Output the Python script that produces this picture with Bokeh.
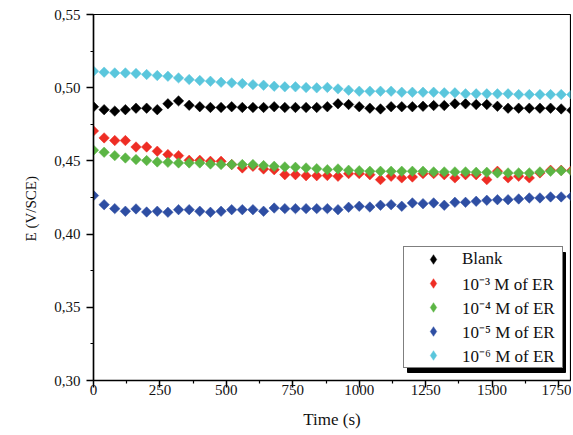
import numpy as np
from bokeh.plotting import figure
from bokeh.models import FixedTicker, Range1d, Legend, LegendItem, BoxAnnotation, Title
from bokeh.embed import file_html
from bokeh.resources import INLINE

# ---------------- data ----------------
time_s = [0, 40, 80, 120, 160, 200, 240, 280, 320, 360, 400, 440, 480, 520, 560,
          600, 640, 680, 720, 760, 800, 840, 880, 920, 960, 1000, 1040, 1080, 1120,
          1160, 1200, 1240, 1280, 1320, 1360, 1400, 1440, 1480, 1520, 1560, 1600,
          1640, 1680, 1720, 1760, 1800]

blank = [0.487, 0.485, 0.484, 0.485, 0.486, 0.486, 0.485, 0.489, 0.491, 0.488, 0.487,
         0.4865, 0.4865, 0.487, 0.4865, 0.4865, 0.4865, 0.487, 0.4865, 0.4865, 0.4865, 0.4865,
         0.487, 0.489, 0.4885, 0.487, 0.486, 0.4855, 0.487, 0.487, 0.487, 0.4873, 0.4878,
         0.4878, 0.489, 0.489, 0.4885, 0.4885, 0.4873, 0.486, 0.486, 0.486, 0.486, 0.486,
         0.4855, 0.4846]

er_1e3 = [0.4705, 0.4657, 0.4639, 0.4639, 0.4595, 0.4595, 0.4566, 0.4543, 0.4536, 0.4504,
          0.4504, 0.4497, 0.4497, 0.4475, 0.4452, 0.4463, 0.4445, 0.4440, 0.4406, 0.4406,
          0.4399, 0.4399, 0.4400, 0.4395, 0.4413, 0.4413, 0.4406, 0.4372, 0.4395, 0.4384,
          0.4390, 0.4413, 0.4413, 0.4406, 0.4384, 0.4406, 0.4406, 0.4372, 0.4429, 0.4384,
          0.4395, 0.4384, 0.4418, 0.4436, 0.4436, 0.4436]

er_1e4 = [0.4573, 0.4559, 0.4536, 0.4520, 0.4509, 0.4502, 0.4493, 0.4490, 0.4486, 0.4486,
          0.4486, 0.4479, 0.4475, 0.4475, 0.4475, 0.4475, 0.4468, 0.4463, 0.4459, 0.4456,
          0.4452, 0.4447, 0.4440, 0.4445, 0.4436, 0.4433, 0.4429, 0.4429, 0.4429, 0.4429,
          0.4429, 0.4429, 0.4425, 0.4425, 0.4425, 0.4425, 0.4422, 0.4422, 0.4418, 0.4418,
          0.4418, 0.4418, 0.4425, 0.4429, 0.4433, 0.4429]

er_1e5 = [0.4263, 0.4201, 0.4174, 0.4156, 0.4172, 0.4151, 0.4156, 0.4149, 0.4167, 0.4167,
          0.4156, 0.4149, 0.4156, 0.4167, 0.4167, 0.4167, 0.4156, 0.4178, 0.4174, 0.4174,
          0.4174, 0.4174, 0.4174, 0.4167, 0.4183, 0.4190, 0.4185, 0.4197, 0.4201, 0.4190,
          0.4213, 0.4208, 0.4213, 0.4197, 0.4217, 0.4217, 0.4224, 0.4231, 0.4235, 0.4235,
          0.4240, 0.4247, 0.4247, 0.4254, 0.4254, 0.4258]

er_1e6 = [0.5113, 0.5106, 0.5101, 0.5101, 0.5097, 0.5090, 0.5083, 0.5078, 0.5067, 0.5056,
          0.5049, 0.5044, 0.5037, 0.5033, 0.5028, 0.5021, 0.5017, 0.5010, 0.5006, 0.5006,
          0.5001, 0.4999, 0.5002, 0.4992, 0.4983, 0.4976, 0.4976, 0.4976, 0.4976, 0.4969,
          0.4969, 0.4969, 0.4969, 0.4965, 0.4965, 0.4958, 0.4958, 0.4958, 0.4958, 0.4958,
          0.4953, 0.4953, 0.4953, 0.4953, 0.4953, 0.4953]

series_labels = ["Blank", "10\u207b\u00b3 M of ER", "10\u207b\u2074 M of ER",
                 "10\u207b\u2075 M of ER", "10\u207b\u2076 M of ER"]
series_colors = ["#000000", "#ee2d24", "#5bb544", "#2e4ea3", "#5ac6dc"]

x_ticks = [0, 250, 500, 750, 1000, 1250, 1500, 1750]
x_minor = [125, 375, 625, 875, 1125, 1375, 1625]
y_ticks = [0.30, 0.35, 0.40, 0.45, 0.50, 0.55]
y_minor = [0.325, 0.375, 0.425, 0.475, 0.525]
y_tick_labels = ["0,30", "0,35", "0,40", "0,45", "0,50", "0,55"]

# ---------------- figure ----------------
FONT = "Liberation Serif"

p = figure(width=571, height=433, output_backend="svg", toolbar_location=None,
           x_range=Range1d(0, 1795), y_range=Range1d(0.30, 0.55),
           min_border_left=93, min_border_right=1, min_border_top=14, min_border_bottom=53)
p.background_fill_color = "white"
p.border_fill_color = "white"
p.outline_line_color = "black"
p.outline_line_width = 1.2
p.xgrid.visible = False
p.ygrid.visible = False

all_series = [blank, er_1e3, er_1e4, er_1e5, er_1e6]
renderers = []
legend_glyphs = []
for ys, col in zip(all_series, series_colors):
    r = p.scatter(time_s, ys, marker="square", angle=np.pi / 4, size=7.4,
                  fill_color=col, line_color=col, line_width=0.5)
    renderers.append(r)
    # diamond swatch used only by the legend (no visible point in the plot)
    g = p.scatter([np.nan], [np.nan], marker="diamond", size=10, fill_color=col,
                  line_color=col, line_width=0.5)
    legend_glyphs.append(g)

for ax in (p.xaxis[0], p.yaxis[0]):
    ax.axis_line_width = 1.5
    ax.axis_line_color = "black"
    ax.major_tick_line_color = "black"
    ax.minor_tick_line_color = "black"
    ax.major_tick_line_width = 1.5
    ax.minor_tick_line_width = 1.2
    ax.major_tick_in = 0
    ax.major_tick_out = 7
    ax.minor_tick_in = 0
    ax.minor_tick_out = 3
    ax.major_label_text_font = FONT
    ax.major_label_text_font_size = "15px"
    ax.major_label_text_color = "#111111"
    ax.axis_label_text_font = FONT
    ax.axis_label_text_font_style = "normal"
    ax.axis_label_text_color = "#111111"

p.xaxis.ticker = FixedTicker(ticks=x_ticks, minor_ticks=x_minor)
p.yaxis.ticker = FixedTicker(ticks=y_ticks, minor_ticks=y_minor)
p.yaxis.major_label_overrides = {t: l for t, l in zip(y_ticks, y_tick_labels)}
p.xaxis.major_label_standoff = -3
p.yaxis.major_label_standoff = 6

p.xaxis.axis_label = "Time (s)"
p.xaxis.axis_label_text_font_size = "17px"
p.xaxis.axis_label_standoff = 12

# y-axis title as a left-side title, shifted down to where the reference has it
ytitle = Title(text="E (V/SCE)", align="left", offset=139, vertical_align="middle",
               text_font=FONT, text_font_size="15px", text_font_style="normal",
               text_color="#111111", standoff=23)
p.add_layout(ytitle, "left")

# legend drop shadow (screen units, relative to the plot frame)
GLYPH_W, LABEL_W = 58, 100
LEG_X, LEG_Y, LEG_W, LEG_H, SH = 310, 12, GLYPH_W + LABEL_W, 120, 4
p.add_layout(BoxAnnotation(left=LEG_X + SH, right=LEG_X + LEG_W + SH,
                           bottom=LEG_Y - SH, top=LEG_Y + LEG_H - SH,
                           left_units="screen", right_units="screen",
                           bottom_units="screen", top_units="screen",
                           fill_color="black", fill_alpha=1.0, line_color="black",
                           line_alpha=1.0))

legend_items = [LegendItem(label=lbl, renderers=[g]) for lbl, g in zip(series_labels, legend_glyphs)]
legend = Legend(items=legend_items, location=(LEG_X, LEG_Y), margin=0, padding=0, spacing=0,
                glyph_width=GLYPH_W, glyph_height=24, label_height=24, label_width=LABEL_W,
                label_standoff=0,
                label_text_font=FONT, label_text_font_size="17px",
                label_text_color="#111111",
                border_line_color="black", border_line_width=1.2,
                background_fill_color="white", background_fill_alpha=1.0)
p.add_layout(legend, "center")

open("out.html", "w").write(file_html(p, INLINE))
